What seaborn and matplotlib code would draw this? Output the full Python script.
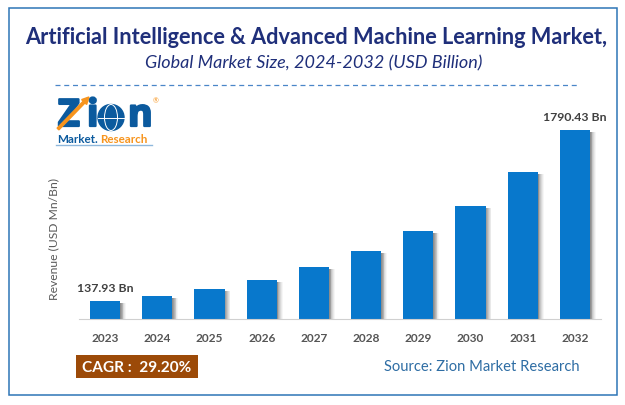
import matplotlib
matplotlib.use("Agg")
import matplotlib.pyplot as plt
import matplotlib.patheffects as pe
from matplotlib.patches import Rectangle, Circle, Ellipse, FancyArrow
import pandas as pd
import seaborn as sns

years = ["2023", "2024", "2025", "2026", "2027", "2028", "2029", "2030", "2031", "2032"]
revenue = [170, 217, 283, 367, 490, 640, 829, 1064, 1385, 1790.43]
first_label = "137.93 Bn"
last_label = "1790.43 Bn"

title = "Artificial Intelligence & Advanced Machine Learning Market,"
subtitle = "Global Market Size, 2024-2032 (USD Billion)"
source = "Source: Zion Market Research"
cagr = "CAGR :  29.20%"

sns.set_style({'axes.facecolor': 'white', 'axes.edgecolor': '#d0d0d0', 'axes.grid': False})
plt.rcParams['font.family'] = ['Lato', 'DejaVu Sans']

W, H = 625, 406
fig = plt.figure(figsize=(W / 100, H / 100), dpi=100, facecolor='white')

# overlay in pixel coords for frame, logo and captions
bg = fig.add_axes([0, 0, 1, 1], zorder=0)
bg.set_xlim(0, W)
bg.set_ylim(H, 0)
bg.axis('off')

bg.add_patch(Rectangle((8.5, 8.5), 608.5, 387.5, fill=False, ec='#2e75b6', lw=1.1))
bg.text(316, 37, title, ha='center', va='center', fontsize=15.65, fontweight='bold', color='#1f2f7a')
bg.text(314, 63, subtitle, ha='center', va='center', fontsize=13, style='italic', color='#1f2f7a')
bg.plot([55, 578], [86, 86], color='#4a86c8', lw=0.9, dashes=(4, 3))

# logo
blue = '#0b5a9e'
orange = '#f7941d'
heavy = [pe.withStroke(linewidth=1.6, foreground=blue)]
for letter, x in [("Z", 58), ("i", 87), ("n", 128)]:
    bg.text(x, 117, letter, ha='left', va='center', fontsize=27, fontweight='bold', color=blue,
            family='Open Sans', path_effects=heavy)
bg.add_patch(FancyArrow(58, 130, 31, -32, width=2.5, head_width=7, head_length=7,
                        length_includes_head=True, color=orange, zorder=3))
bg.add_patch(Circle((111, 118.5), 13, fc=blue, ec=blue, zorder=3))
bg.add_patch(Ellipse((111, 118.5), 13, 26, fill=False, ec='white', lw=0.7, zorder=4))
bg.plot([98, 124], [118.5, 118.5], color='white', lw=0.7, zorder=4)
bg.text(156, 101, "®", ha='center', va='center', fontsize=5, color=orange)
bg.text(57, 140, "Market.", ha='left', va='center', fontsize=8.4, fontweight='bold', color=blue)
bg.text(100.5, 140, "Research", ha='left', va='center', fontsize=8.4, fontweight='bold', color=orange)
bg.plot([56, 152], [146, 146], color='#8fb8dc', lw=1)

bg.text(54, 239, "Revenue (USD Mn/Bn)", rotation=90, ha='center', va='center', fontsize=8.75, color='#595959')
bg.add_patch(Rectangle((76, 356), 122, 23, fc='#9c4a08', ec='none'))
bg.text(137, 368, cagr, ha='center', va='center', fontsize=11.1, fontweight='bold', color='white')
bg.text(482, 367, source, ha='center', va='center', fontsize=10.6, color='#2e6da4')

# chart, axes box runs x 79-601, baseline y 320
ax = fig.add_axes([79 / W, 1 - 320 / H, 522 / W, 200 / H], zorder=1)
ax.patch.set_alpha(0)
df = pd.DataFrame({'year': years, 'revenue': revenue})
sns.barplot(data=df, x='year', y='revenue', color='#0878cc', saturation=1, width=0.575, ax=ax)
ax.set_xlim(-0.5, 9.5)
ax.set_ylim(0, 1790.43 * 200 / 189.5)
ax.set_xlabel('')
ax.set_ylabel('')
ax.set_yticks([])
for s in ['top', 'left', 'right']:
    ax.spines[s].set_visible(False)
ax.spines['bottom'].set_color('#d0d0d0')
ax.tick_params(axis='x', length=0, pad=9)
for t in ax.get_xticklabels():
    t.set_fontsize(8.6)
    t.set_fontweight('bold')
    t.set_color('#555555')

# soft grey shadow to the right of the bars
shadow = [pe.SimplePatchShadow(offset=(d, -1.5), shadow_rgbFace='#666666', alpha=a)
          for d, a in [(4.2, 0.06), (3.6, 0.09), (3.0, 0.12), (2.4, 0.16), (1.8, 0.2), (1.2, 0.25), (0.6, 0.3)]]
for bar in ax.patches:
    bar.set_path_effects(shadow + [pe.Normal()])

ax.text(0, revenue[0] + 75, first_label, ha='center', va='bottom', fontsize=8.8, fontweight='bold', color='#404040')
ax.text(9, revenue[-1] + 75, last_label, ha='center', va='bottom', fontsize=8.8, fontweight='bold', color='#404040')

fig.savefig('out.png', dpi=100)
